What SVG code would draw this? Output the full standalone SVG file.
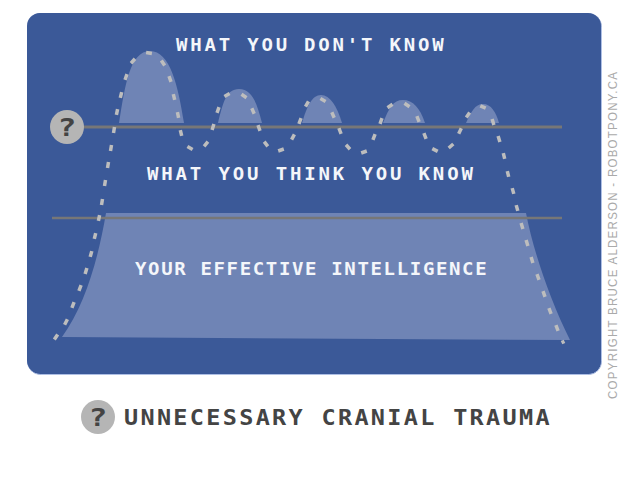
<svg xmlns="http://www.w3.org/2000/svg" width="640" height="480" viewBox="0 0 640 480">
<style>
.fill{fill:#6f84b5}
.t{font-family:"DejaVu Sans Mono","Liberation Mono",monospace;font-weight:700;fill:#f4f6fa;font-size:17px}
.q{font-family:"DejaVu Sans Mono","Liberation Mono",monospace;font-weight:700;fill:#444;font-size:25px;text-anchor:middle}
.rule{stroke:#777;fill:none}
.badge{fill:#b5b5b5}
</style>
<rect width="640" height="480" fill="#fff"/>
<rect id="panel" x="27.5" y="13.5" width="574" height="361" rx="13" fill="#3b5998" stroke="#aebfe4" stroke-width="1"/>
<rect x="27" y="13" width="574" height="360.5" rx="13" fill="#3b5998"/>
<g id="areas">
<path class="fill" d="M119 123C125 85 130 51 150 51C170 51 178 85 184 123Z"/>
<path class="fill" d="M218 123C223 103 226 89 239 89C252 89 257 103 262 123Z"/>
<path class="fill" d="M302 123C307 106 312 95 321 95C330 95 337 106 342 123Z"/>
<path class="fill" d="M383 123C389 108 393 100 403 100C413 100 420 108 425 123Z"/>
<path class="fill" d="M466 123C471 112 475 104 483 104C491 104 496 112 499 123Z"/>
<path class="fill" d="M106 213H526C533 250 550 300 570 340L62 337C85 305 98 260 106 213Z"/>
</g>
<g id="connectors">
<path class="rule" stroke-width="3" d="M80 127H562"/>
<path class="rule" stroke-width="2.5" d="M52 218H562"/>
<path fill="none" stroke="#bdbdbd" stroke-width="3.5" d="M54.3 339.5l3.4-5M64.6 324.7l2.8-5.4M71.9 307.8l2.2-5.6M78.9 290.8l2.2-5.6M85.1 273.9l1.8-5.8M90.2 256.9l1.6-5.8M94.3 238.9l1.4-5.8M98.4 220.9l1.2-5.8M101.5 205l1-6M104.5 186l1-6M107.5 168l1-6M110.5 151l1-6M113.5 133l1-6M116.4 114.9l1.2-5.8M120.3 97.9l1.4-5.8M125 79.8l2-5.6M131 63.2l4-4.4M146.1 52.5l5.8 1M161.3 60.5l3.4 5M169 76.2l2 5.6M173.3 94.1l1.4 5.8M177.4 112.1l1.2 5.8M180.3 130.1l1.4 5.8M187.4 146.5l5.2 3M204.1 146.3l3.8-4.6M212.1 129.9l1.8-5.8M217 112.8l2-5.6M224.4 96.5l5.2-3M241.5 94.3l5 3.4M251.8 108.3l2.4 5.4M258 125.2l2 5.6M264.2 141.6l3.6 4.8M278.2 151l5.6-2M291.6 139.6l2.8-5.2M298.9 123.8l2.2-5.6M305.5 106.6l3-5.2M320.4 98.5l5.2 3M331.8 112.3l2.4 5.4M338.9 128.2l2.2 5.6M346 144.8l4 4.4M361.2 153l5.6-2M372.9 139.8l2.2-5.6M380 123.8l2-5.6M387.5 107.7l5-3.4M404.5 103.3l5 3.4M416.9 116.2l2.2 5.6M423.9 133.2l2.2 5.6M432.3 148.6l5.4 2.8M448.7 148l4.6-4M458.7 133.7l2.6-5.4M466.3 117.5l3.4-5M480.3 105.8l5.4 2.4M492.1 119.1l1.8 5.8M498.1 136.1l1.8 5.8M503.3 153.1l1.4 5.8M507.3 171.1l1.4 5.8M512.2 188.1l1.6 5.8M516.2 205.1l1.6 5.8M521.1 223.1l1.8 5.8M526.1 240.1l1.8 5.8M531.1 257.1l1.8 5.8M537 274.2l2 5.6M543 291.2l2 5.6M548.9 308.2l2.2 5.6M555.9 325.2l2.2 5.6M561.5 342.7l3-1.4"/>
</g>
<g id="node-badge-top">
<circle class="badge" cx="67" cy="127" r="17"/>
<text class="q" transform="translate(67 136) scale(1.25 1)">?</text>
</g>
<text class="t" transform="translate(176 51) scale(1.12 1)" textLength="239">WHAT YOU DON'T KNOW</text>
<text class="t" transform="translate(147 180) scale(1.12 1)" textLength="291">WHAT YOU THINK YOU KNOW</text>
<text class="t" transform="translate(135 275) scale(1.12 1)" textLength="314">YOUR EFFECTIVE INTELLIGENCE</text>
<g id="node-badge-bottom">
<circle class="badge" cx="98" cy="417" r="17"/>
<text class="q" transform="translate(98 426) scale(1.25 1)">?</text>
</g>
<text transform="translate(124 425) scale(1.12 1)" textLength="380" font-family="DejaVu Sans Mono,Liberation Mono,monospace" font-weight="700" font-size="21" fill="#444">UNNECESSARY CRANIAL TRAUMA</text>
<text transform="translate(617 399) rotate(-90) scale(1 1.1)" textLength="327" font-family="Liberation Sans,Arial,sans-serif" font-size="11.5" fill="#aaa">COPYRIGHT BRUCE ALDERSON - ROBOTPONY.CA</text>
</svg>
